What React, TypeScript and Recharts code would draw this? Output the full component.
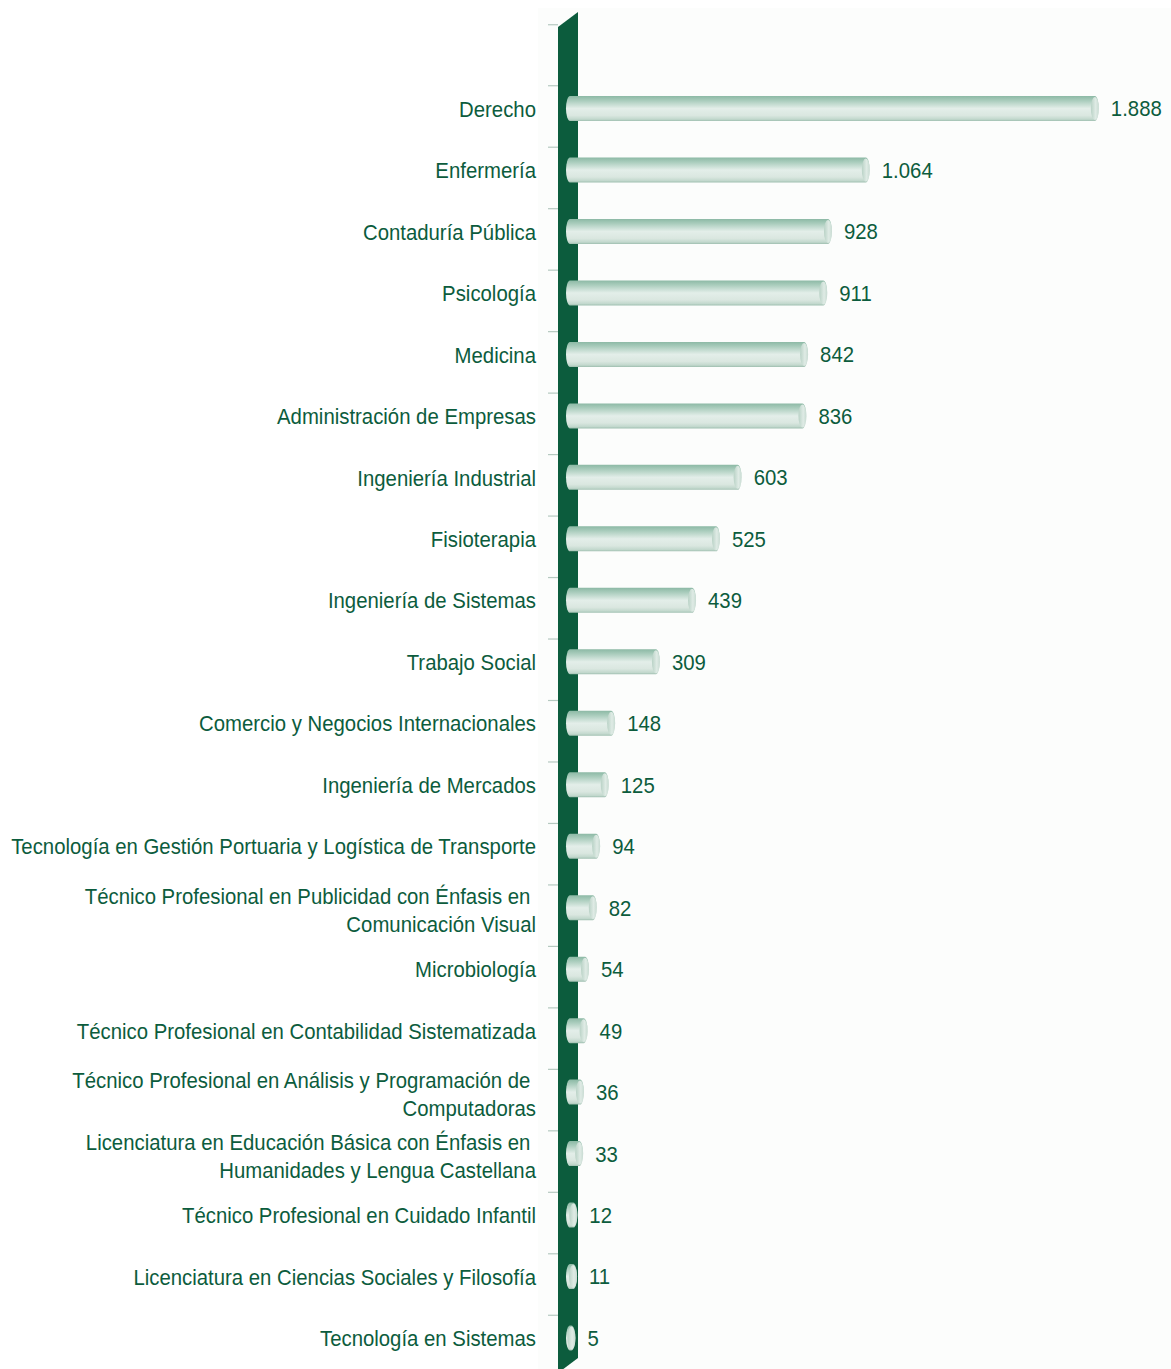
import React from 'react';
import { BarChart, Bar, XAxis, YAxis, LabelList } from 'recharts';

// graduates per academic program
const programs = [
  'Derecho',
  'Enfermería',
  'Contaduría Pública',
  'Psicología',
  'Medicina',
  'Administración de Empresas',
  'Ingeniería Industrial',
  'Fisioterapia',
  'Ingeniería de Sistemas',
  'Trabajo Social',
  'Comercio y Negocios Internacionales',
  'Ingeniería de Mercados',
  'Tecnología en Gestión Portuaria y Logística de Transporte',
  'Técnico Profesional en Publicidad con Énfasis en \nComunicación Visual',
  'Microbiología',
  'Técnico Profesional en Contabilidad Sistematizada',
  'Técnico Profesional en Análisis y Programación de \nComputadoras',
  'Licenciatura en Educación Básica con Énfasis en \nHumanidades y Lengua Castellana',
  'Técnico Profesional en Cuidado Infantil',
  'Licenciatura en Ciencias Sociales y Filosofía',
  'Tecnología en Sistemas',
];
const graduates = [1888, 1064, 928, 911, 842, 836, 603, 525, 439, 309, 148, 125, 94, 82, 54, 49, 36, 33, 12, 11, 5];
const xDomain = [0, 2000];

const W = 1171;
const H = 1369;
const MARGIN = { top: 78, right: 45, bottom: 0, left: 0 };
const AXIS_W = 570;
const GREEN = '#0c5c3d';
const FONT = "'Liberation Sans', Arial, sans-serif";
// no narrow face installed, so squeeze a regular one horizontally
const SQUEEZE = 0.925;

const data = programs.map((name, i) => ({ name, value: graduates[i] }));

const fmt = (v: number) => v.toString().replace(/\B(?=(\d{3})+(?!\d))/g, '.');

function NarrowText({ x, y, anchor, children }: any) {
  return (
    <text
      x={0}
      y={y}
      dy="0.36em"
      textAnchor={anchor}
      fill={GREEN}
      fontSize={22}
      fontFamily={FONT}
      transform={`translate(${x},0) scale(${SQUEEZE},1)`}
      style={{ whiteSpace: 'pre' }}
    >
      {children}
    </text>
  );
}

function ProgramTick(props: any) {
  const { x, y, payload, index } = props;
  const lines = String(payload.value).split('\n');
  const first = lines.length > 1 ? y - 12 : y;
  return (
    <g>
      {/* small ticks sit up-left of each bar, like a 3D back wall */}
      <line x1={x + 12} x2={x + 22} y1={y - 23} y2={y - 23} stroke="#b5c9c0" strokeWidth={1.2} />
      {index === 0 && (
        <line x1={x + 12} x2={x + 22} y1={y - 84} y2={y - 84} stroke="#b5c9c0" strokeWidth={1.2} />
      )}
      {lines.map((l, i) => (
        <NarrowText key={i} x={x} y={first + i * 28} anchor="end">
          {l}
        </NarrowText>
      ))}
    </g>
  );
}

function CylinderBar(props: any) {
  const { x, y, width, height } = props;
  const r = 4;
  const h2 = height / 2;
  const x2 = x + Math.max(width, 0);
  const d = `M${x},${y} H${x2} A${r},${h2} 0 0 1 ${x2},${y + height} H${x} A${r},${h2} 0 0 1 ${x},${y} Z`;
  return (
    <g>
      <path d={d} fill="url(#cyl)" />
      <ellipse cx={x2} cy={y + h2} rx={r} ry={h2 - 1} fill="url(#cap)" />
    </g>
  );
}

function ValueLabel(props: any) {
  const { x, y, width, height, value } = props;
  return (
    <NarrowText x={x + width + 16} y={y + height / 2} anchor="start">
      {fmt(value)}
    </NarrowText>
  );
}

export default function App() {
  const wl = MARGIN.left + AXIS_W - 12;
  const wr = MARGIN.left + AXIS_W + 8;
  return (
    <div style={{ position: 'absolute', left: 0, top: 0, width: W, height: H, background: '#fff' }}>
      {/* dark green axis wall behind the bars */}
      <svg width={W} height={H} style={{ position: 'absolute', left: 0, top: 0 }}>
        <rect x={538} y={8} width={W - 538} height={H - 8} fill="#fcfdfc" />
        <polygon points={`${wl},27 ${wr},12 ${wr},${H - 11} ${wl},${H + 4}`} fill={GREEN} />
      </svg>
      <div style={{ position: 'absolute', left: 0, top: 0 }}>
        <BarChart width={W} height={H} data={data} layout="vertical" margin={MARGIN} barSize={25}>
          <defs>
            <linearGradient id="cyl" x1="0" y1="0" x2="0" y2="1">
              <stop offset="0%" stopColor="#8cb9a5" />
              <stop offset="18%" stopColor="#a9ccbc" />
              <stop offset="50%" stopColor="#e3eee9" />
              <stop offset="78%" stopColor="#dae7e0" />
              <stop offset="93%" stopColor="#c2d8cd" />
              <stop offset="100%" stopColor="#9fbfb0" />
            </linearGradient>
            <linearGradient id="cap" x1="0" y1="0" x2="1" y2="0">
              <stop offset="0%" stopColor="#b9d2c6" />
              <stop offset="60%" stopColor="#dfebe5" />
              <stop offset="100%" stopColor="#c8dbd2" />
            </linearGradient>
          </defs>
          <XAxis type="number" domain={xDomain} hide />
          <YAxis
            type="category"
            dataKey="name"
            width={AXIS_W}
            axisLine={false}
            tickLine={false}
            tickSize={0}
            tickMargin={34}
            interval={0}
            tick={<ProgramTick />}
          />
          <Bar dataKey="value" shape={<CylinderBar />} isAnimationActive={false}>
            <LabelList dataKey="value" content={<ValueLabel />} />
          </Bar>
        </BarChart>
      </div>
    </div>
  );
}
